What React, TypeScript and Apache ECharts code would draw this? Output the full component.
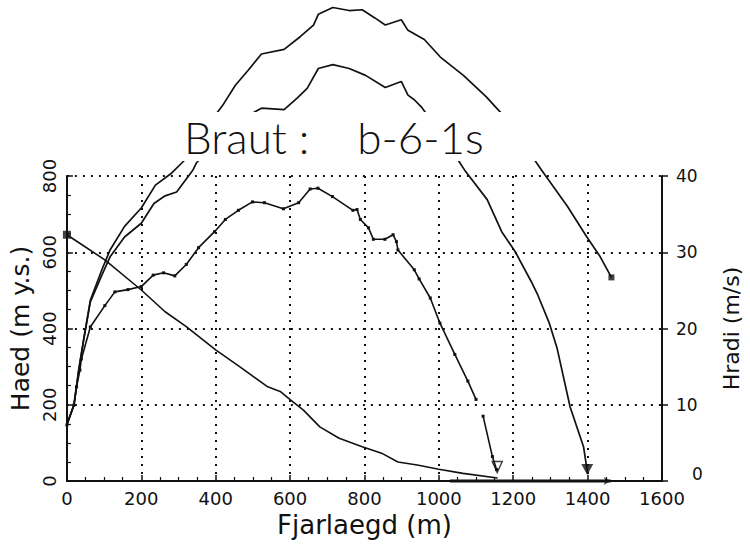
import React, { useEffect, useRef } from 'react';
import * as echarts from 'echarts';

// ---- data (x = distance m, y = height m or speed m/s) ----
const TITLE = 'Braut :    b-6-1s';
const X_NAME = 'Fjarlaegd (m)';
const Y_LEFT_NAME = 'Haed (m y.s.)';
const Y_RIGHT_NAME = 'Hradi (m/s)';

// terrain profile, height (m a.s.l.)
const profile: [number, number][] = [
  [0, 646], [102, 580], [200, 501], [264, 444], [321, 405], [400, 344], [470, 296],
  [540, 247], [575, 234], [601, 213], [636, 186], [680, 142], [732, 112], [794, 90],
  [846, 73], [890, 50], [942, 42], [1000, 31], [1065, 20], [1158, 8],
];

// runout band on the ground (height 0)
const runout: [number, number][] = [[1030, 0], [1462, 0]];

// speed with markers (m/s)
const speedMarked: ([number, number] | null)[] = [
  [0, 7.35], [19, 9.95], [26, 12.35], [35, 14.55], [39, 16.0], [63, 20.2], [102, 23.0],
  [129, 24.8], [164, 25.1], [200, 25.5], [232, 27.0], [260, 27.3], [290, 26.9], [321, 28.4],
  [354, 30.6], [397, 32.7], [426, 34.3], [461, 35.5], [499, 36.6], [531, 36.5], [582, 35.7],
  [623, 36.5], [654, 38.3], [675, 38.4], [714, 37.3], [769, 35.5], [780, 35.6], [789, 34.3],
  [811, 33.2], [824, 31.7], [855, 31.7], [877, 32.3], [886, 31.4], [890, 30.3], [934, 27.7],
  [947, 26.5], [977, 24.0], [1003, 20.7], [1043, 16.6], [1078, 13.1], [1100, 10.7], null,
  [1119, 8.5], [1144, 3.2], [1155, 1.5],
];

// inner speed curve (m/s), stops at 1400 m
const speedInner: [number, number][] = [
  [0, 7.4], [19, 10], [32, 14.6], [45, 18.5], [63, 23.5], [94, 27], [116, 29.4], [155, 32],
  [200, 33.8], [234, 36.4], [264, 37.4], [295, 37.9], [339, 40.8], [348, 41.7], [410, 45],
  [483, 47.8], [523, 48.9], [584, 48.7], [619, 50.2], [646, 51.5], [676, 54.1], [715, 54.6],
  [759, 54.1], [803, 53.2], [856, 51.6], [899, 52.4], [917, 50.6], [934, 50.0], [952, 49.1],
  [1000, 46], [1057, 41.7], [1069, 40.8], [1130, 36.9], [1169, 32.7], [1205, 30.1],
  [1249, 26.1], [1266, 24.4], [1297, 20.7], [1318, 17.4], [1353, 9.7], [1389, 4.5], [1400, 1.0],
];

// outer speed curve (m/s), stops at 1464 m
const speedOuter: [number, number][] = [
  [0, 7.4], [19, 10], [32, 14.6], [45, 18.5], [63, 23.7], [94, 27.7], [116, 30.3], [155, 33.4],
  [200, 35.8], [238, 38.8], [282, 40.4], [317, 42.1], [360, 45.5], [418, 49.2], [453, 51.9],
  [488, 53.9], [523, 56.0], [584, 56.6], [628, 58.3], [663, 59.8], [676, 61.2], [715, 62.1],
  [759, 61.7], [794, 61.8], [829, 60.7], [856, 59.8], [899, 60.5], [917, 59.1], [961, 57.9],
  [1004, 55.6], [1066, 53.2], [1127, 50.4], [1180, 47.6], [1222, 44.8], [1263, 41.7],
  [1276, 40.8], [1346, 36.0], [1398, 32.0], [1434, 29.4], [1464, 26.7],
];

// end markers
const stopOpen: [number, number][] = [[1157, 1.3]];
const stopFilled: [number, number][] = [[1399, 1.0]];
const endSquare: [number, number][] = [[1464, 26.7]];
const profileStart: [number, number][] = [[0, 646]];
const runoutEnd: [number, number][] = [[1462, 0]];

const FONT = 'DejaVu Sans, Liberation Sans, sans-serif';
const TITLE_FONT = 'Lato, "DejaVu Sans", sans-serif';
const INK = '#111';

export default function App() {
  const ref = useRef<HTMLDivElement>(null);
  useEffect(() => {
    if (!ref.current) return;
    const chart = echarts.init(ref.current, undefined, { renderer: 'svg' });
    const option: any = {
      animation: false,
      backgroundColor: '#fff',
      grid: { left: 61, right: 80, top: 176, bottom: 64, containLabel: false },
      graphic: [
        {
          type: 'rect', z: 100, silent: true,
          shape: { x: 183, y: 112, width: 365, height: 49 },
          style: { fill: '#fff' },
        },
        {
          type: 'text', z: 101, silent: true, x: 184, y: 137,
          style: {
            text: TITLE, fill: INK, font: `300 44px ${TITLE_FONT}`,
            textAlign: 'left', textVerticalAlign: 'middle',
          },
        },
      ],
      xAxis: {
        type: 'value', min: 0, max: 1600, interval: 200,
        name: X_NAME, nameLocation: 'middle', nameGap: 30,
        nameTextStyle: { fontSize: 26, color: INK, fontFamily: FONT },
        axisLine: { show: true, lineStyle: { color: INK, width: 2 } },
        axisTick: { show: true, inside: true, length: 6, lineStyle: { color: INK, width: 1.5 } },
        minorTick: { show: true, splitNumber: 4, length: 4, lineStyle: { color: INK, width: 1.2 } },
        axisLabel: {
          fontSize: 18, color: INK, margin: 8, fontFamily: FONT,
          formatter: (v: number) => String(v),
        },
        splitLine: { show: true, lineStyle: { color: INK, type: [2, 6], width: 2 } },
      },
      yAxis: [
        {
          type: 'value', position: 'left', min: 0, max: 800, interval: 200,
          name: Y_LEFT_NAME, nameLocation: 'middle', nameGap: 30, nameRotate: 90,
          nameTextStyle: { fontSize: 25, color: INK, fontFamily: FONT },
          axisLine: { show: true, lineStyle: { color: INK, width: 2 } },
          axisTick: { show: true, inside: true, length: 6, lineStyle: { color: INK, width: 1.5 } },
          minorTick: { show: true, splitNumber: 4, length: 4, lineStyle: { color: INK, width: 1.2 } },
          axisLabel: {
            fontSize: 18, color: INK, margin: 8, rotate: 90, fontFamily: FONT,
            formatter: (v: number) => String(v),
          },
          splitLine: { show: true, lineStyle: { color: INK, type: [2, 6], width: 2 } },
        },
        {
          type: 'value', position: 'right', min: 0, max: 40, interval: 10,
          name: Y_RIGHT_NAME, nameLocation: 'middle', nameGap: 58, nameRotate: 90,
          nameTextStyle: { fontSize: 22, color: INK, fontFamily: FONT },
          axisLine: { show: true, lineStyle: { color: INK, width: 2 } },
          axisTick: { show: true, inside: false, length: 6, lineStyle: { color: INK, width: 1.5 } },
          axisLabel: {
            fontSize: 17, color: INK, margin: 14, fontFamily: FONT,
            formatter: (v: number) => (v === 0 ? '{z|0}' : String(v)),
            rich: { z: { fontSize: 17, fontFamily: FONT, color: INK, padding: [0, 0, 14, 16] } },
          },
          splitLine: { show: false },
        },
      ],
      series: [
        {
          name: 'profile', type: 'line', yAxisIndex: 0, data: profile, clip: false,
          symbol: 'none', lineStyle: { color: INK, width: 1.6 },
        },
        {
          name: 'runout', type: 'line', yAxisIndex: 0, data: runout, clip: false,
          symbol: 'none', lineStyle: { color: INK, width: 3 },
        },
        {
          name: 'speedMarked', type: 'line', yAxisIndex: 1, data: speedMarked, clip: false,
          connectNulls: false, symbol: 'rect', symbolSize: 3, showAllSymbol: true,
          itemStyle: { color: INK }, lineStyle: { color: INK, width: 1.6 },
        },
        {
          name: 'speedInner', type: 'line', yAxisIndex: 1, data: speedInner, clip: false,
          symbol: 'none', lineStyle: { color: INK, width: 1.7 },
        },
        {
          name: 'speedOuter', type: 'line', yAxisIndex: 1, data: speedOuter, clip: false,
          symbol: 'none', lineStyle: { color: INK, width: 1.7 },
        },
        {
          name: 'stopOpen', type: 'scatter', yAxisIndex: 1, data: stopOpen, clip: false,
          symbol: 'triangle', symbolRotate: 180, symbolSize: [10, 11], symbolOffset: [0, -4],
          itemStyle: { color: '#fff', borderColor: INK, borderWidth: 1.5 },
        },
        {
          name: 'stopFilled', type: 'scatter', yAxisIndex: 1, data: stopFilled, clip: false,
          symbol: 'triangle', symbolRotate: 180, symbolSize: [12, 11], symbolOffset: [0, -4],
          itemStyle: { color: INK },
        },
        {
          name: 'endSquare', type: 'scatter', yAxisIndex: 1, data: endSquare, clip: false,
          symbol: 'rect', symbolSize: 6, itemStyle: { color: INK },
        },
        {
          name: 'profileStart', type: 'scatter', yAxisIndex: 0, data: profileStart, clip: false,
          symbol: 'rect', symbolSize: 8, itemStyle: { color: INK },
        },
        {
          name: 'runoutEnd', type: 'scatter', yAxisIndex: 0, data: runoutEnd, clip: false,
          symbol: 'arrow', symbolRotate: -90, symbolSize: [6, 7], itemStyle: { color: INK },
        },
      ],
    };
    chart.setOption(option);
    return () => chart.dispose();
  }, []);
  return (
    <div
      ref={ref}
      style={{ position: 'fixed', left: 0, top: 0, width: 750, height: 545, background: '#fff' }}
    />
  );
}
